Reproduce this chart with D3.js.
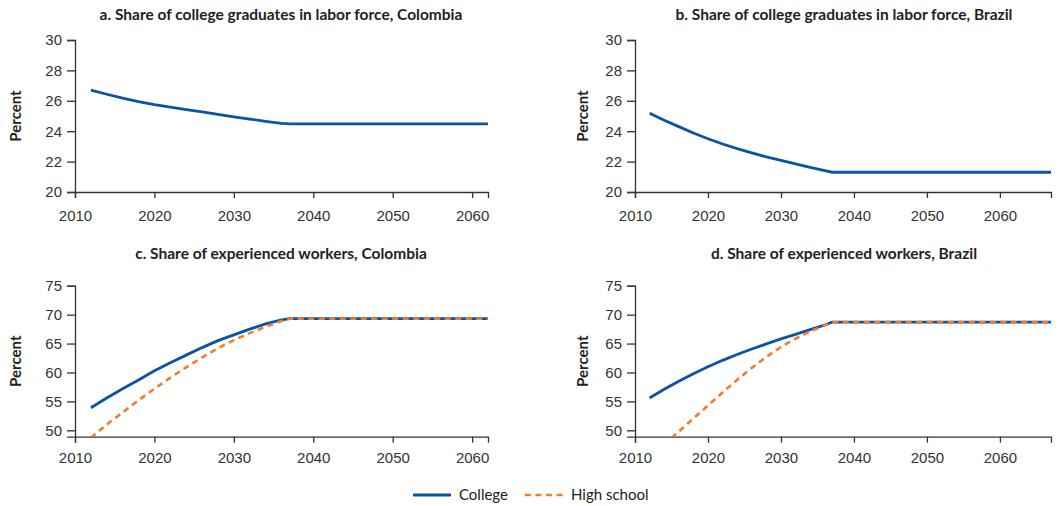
<!DOCTYPE html>
<html>
<head>
<meta charset="utf-8">
<script src="https://cdn.jsdelivr.net/npm/d3@7"></script>
<style>
  body { margin: 0; background: #fff; }
  svg { display: block; font-family: Lato, "Open Sans", sans-serif; }
  .tick text { fill: #333; font-size: 15px; }
  .tick line, .domain { stroke: #333; stroke-width: 1.3; }
</style>
</head>
<body>
<div id="chart"></div>
<script>
// Years shared by every series (projection flattens after 2037).
const years = [2012, 2014, 2016, 2018, 2020, 2022, 2024, 2026, 2028, 2030, 2032, 2034, 2036, 2037];

// Panel a/b: share of college graduates in labor force (percent)
const collegeShareColombia = [26.7, 26.43, 26.18, 25.95, 25.75, 25.58, 25.42, 25.27, 25.11, 24.95, 24.8, 24.65, 24.52, 24.48];
const collegeShareBrazil   = [25.18, 24.72, 24.3, 23.88, 23.5, 23.16, 22.85, 22.57, 22.31, 22.08, 21.85, 21.62, 21.4, 21.3];

// Panel c/d: share of experienced workers (percent)
const expCollegeColombia = [53.9, 55.6, 57.2, 58.7, 60.3, 61.7, 63.0, 64.3, 65.5, 66.5, 67.5, 68.4, 69.1, 69.3];
const expHSColombia      = [48.7, 51.0, 53.1, 55.2, 57.2, 59.1, 60.9, 62.6, 64.2, 65.6, 66.8, 67.9, 68.9, 69.3];
const expCollegeBrazil   = [55.6, 57.1, 58.5, 59.8, 61.0, 62.1, 63.1, 64.05, 64.95, 65.8, 66.6, 67.4, 68.2, 68.7];
const hsYearsBrazil      = [2015, 2016, 2018, 2020, 2022, 2024, 2026, 2028, 2030, 2032, 2034, 2036, 2037];
const expHSBrazil        = [48.7, 49.8, 52.05, 54.3, 56.55, 58.75, 60.8, 62.7, 64.4, 65.85, 67.1, 68.15, 68.7];

// Last year drawn on each country's axis
const endYearColombia = 2062;
const endYearBrazil = 2067;

const xTicks = [2010, 2020, 2030, 2040, 2050, 2060];
const shareTicks = [20, 22, 24, 26, 28, 30];
const expTicks = [50, 55, 60, 65, 70, 75];

const titles = [
  "a. Share of college graduates in labor force, Colombia",
  "b. Share of college graduates in labor force, Brazil",
  "c. Share of experienced workers, Colombia",
  "d. Share of experienced workers, Brazil"
];
const legendLabels = ["College", "High school"];

const BLUE = "#0b54a5", ORANGE = "#f47b2e";

const svg = d3.select("#chart").append("svg")
  .attr("width", 1058).attr("height", 506);

// extend a series flat to the end of the axis
function withTail(xs, ys, endYear) {
  const pts = xs.map((x, i) => ({ x: x, y: ys[i] }));
  pts.push({ x: endYear, y: ys[ys.length - 1] });
  return pts;
}

function panel(opt) {
  const x = d3.scaleLinear().domain([2010, opt.endYear]).range([opt.left, opt.right]);
  const y = d3.scaleLinear().domain(opt.yDomain).range([opt.bottom, opt.top]);
  const g = svg.append("g");

  const clipId = "clip" + opt.id;
  svg.append("clipPath").attr("id", clipId)
    .append("rect")
      .attr("x", opt.left).attr("y", opt.top - 5)
      .attr("width", opt.right - opt.left + 2)
      .attr("height", opt.bottom - opt.top + 5);

  g.append("g")
    .attr("transform", `translate(0,${opt.bottom})`)
    .call(d3.axisBottom(x).tickValues(xTicks).tickFormat(d3.format("d"))
      .tickSizeOuter(0).tickSize(6).tickPadding(opt.xPad));

  g.append("g")
    .attr("transform", `translate(${opt.left},0)`)
    .call(d3.axisLeft(y).tickValues(opt.yTicks).tickSizeOuter(0).tickSize(8).tickPadding(5));

  const line = d3.line().x(d => x(d.x)).y(d => y(d.y));

  opt.series.forEach(s => {
    g.append("path")
      .datum(s.pts)
      .attr("clip-path", `url(#${clipId})`)
      .attr("d", line)
      .attr("fill", "none")
      .attr("stroke", s.color)
      .attr("stroke-width", s.dash ? 2.6 : 2.8)
      .attr("stroke-dasharray", s.dash ? "6,4.5" : null);
  });

  g.append("text")
    .attr("x", opt.titleX).attr("y", opt.titleY)
    .attr("text-anchor", "middle")
    .attr("font-weight", "bold").attr("font-size", 15.5).attr("fill", "#222")
    .text(opt.title);

  g.append("text")
    .attr("transform", `translate(${opt.labelX},${(opt.top + opt.bottom) / 2}) rotate(-90)`)
    .attr("text-anchor", "middle").attr("dy", "0.35em")
    .attr("font-weight", "bold").attr("font-size", 15).attr("fill", "#222")
    .text("Percent");
}

const colL = 75, colR = 488, bL = 635, bR = 1051;

panel({ id: "a", left: colL, right: colR, top: 40, bottom: 192, endYear: endYearColombia,
  yDomain: [20, 30], yTicks: shareTicks, xPad: 12, title: titles[0], titleX: 281, titleY: 20, labelX: 16,
  series: [{ pts: withTail(years, collegeShareColombia, endYearColombia), color: BLUE }] });

panel({ id: "b", left: bL, right: bR, top: 40, bottom: 192, endYear: endYearBrazil,
  yDomain: [20, 30], yTicks: shareTicks, xPad: 12, title: titles[1], titleX: 844, titleY: 20, labelX: 583,
  series: [{ pts: withTail(years, collegeShareBrazil, endYearBrazil), color: BLUE }] });

panel({ id: "c", left: colL, right: colR, top: 285.7, bottom: 436.7, endYear: endYearColombia,
  yDomain: [48.9, 75], yTicks: expTicks, xPad: 10, title: titles[2], titleX: 281, titleY: 259, labelX: 16,
  series: [
    { pts: withTail(years, expCollegeColombia, endYearColombia), color: BLUE },
    { pts: withTail(years, expHSColombia, endYearColombia), color: ORANGE, dash: true }
  ] });

panel({ id: "d", left: bL, right: bR, top: 285.7, bottom: 436.7, endYear: endYearBrazil,
  yDomain: [48.9, 75], yTicks: expTicks, xPad: 10, title: titles[3], titleX: 844, titleY: 259, labelX: 583,
  series: [
    { pts: withTail(years, expCollegeBrazil, endYearBrazil), color: BLUE },
    { pts: withTail(hsYearsBrazil, expHSBrazil, endYearBrazil), color: ORANGE, dash: true }
  ] });

// Legend
const legend = svg.append("g").attr("transform", "translate(413,495)");
const legendItems = [
  { label: legendLabels[0], color: BLUE, dash: null, x: 0 },
  { label: legendLabels[1], color: ORANGE, dash: "6,4.5", x: 112 }
];
legendItems.forEach(it => {
  legend.append("line")
    .attr("x1", it.x).attr("x2", it.x + 38).attr("y1", 0).attr("y2", 0)
    .attr("stroke", it.color).attr("stroke-width", it.dash ? 2.6 : 2.8)
    .attr("stroke-dasharray", it.dash);
  legend.append("text")
    .attr("x", it.x + 46).attr("y", 0).attr("dy", "0.35em")
    .attr("font-size", 15).attr("fill", "#222")
    .text(it.label);
});
</script>
</body>
</html>
